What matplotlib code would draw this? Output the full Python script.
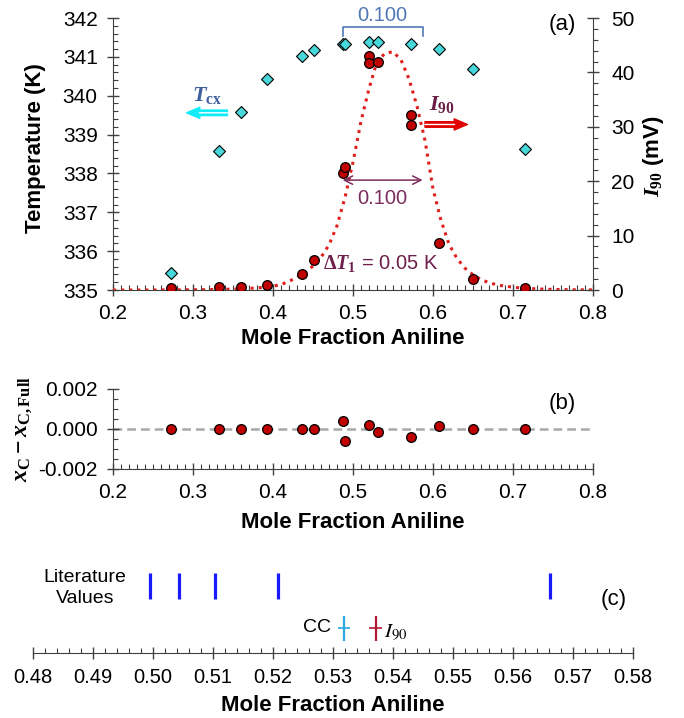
import numpy as np
import matplotlib
matplotlib.use("Agg")
import matplotlib.pyplot as plt
from matplotlib.ticker import MultipleLocator, FormatStrFormatter

plt.rcParams['font.family'] = ['Liberation Sans', 'DejaVu Sans']
plt.rcParams['axes.unicode_minus'] = False
plt.rcParams['mathtext.fontset'] = 'custom'
plt.rcParams['mathtext.rm'] = 'Liberation Serif:bold'
plt.rcParams['mathtext.it'] = 'Liberation Serif:italic:bold'
plt.rcParams['mathtext.bf'] = 'Liberation Serif:bold'

# panel (a): cloud point temperatures (K)
tcx_x = [0.273, 0.333, 0.360, 0.393, 0.436, 0.451, 0.487, 0.490, 0.520, 0.531,
         0.573, 0.608, 0.650, 0.715]
tcx = [335.44, 338.58, 339.58, 340.43, 341.02, 341.18, 341.33, 341.33, 341.38, 341.38,
       341.32, 341.19, 340.68, 338.63]

# panel (a): I90 intensities (mV)
i90_x = [0.273, 0.333, 0.360, 0.393, 0.436, 0.451, 0.487, 0.490, 0.520, 0.520,
         0.531, 0.572, 0.572, 0.608, 0.650, 0.715]
i90 = [0.3, 0.5, 0.5, 1.0, 3.0, 5.6, 21.5, 22.6, 43.0, 41.7,
       42.0, 32.2, 30.3, 8.7, 2.0, 0.4]

# fitted curve, read at 0.01 steps from 0.20 to 0.80
fit_x = np.linspace(0.20, 0.80, 61)
fit_i90 = [0.0, 0.0, 0.0, 0.0, 0.0, 0.0, 0.01, 0.01, 0.02, 0.03,
           0.04, 0.05, 0.07, 0.10, 0.13, 0.17, 0.22, 0.30, 0.38, 0.5,
           0.7, 1.0, 1.6, 2.3, 3.2, 4.4, 6.0, 8.3, 11.8, 17.0,
           23.5, 31.0, 37.0, 42.0, 43.5, 43.8, 42.3, 38.8, 33.8, 27.5,
           18.6, 12.8, 8.4, 5.8, 4.0, 2.8, 1.9, 1.35, 0.95, 0.7,
           0.52, 0.38, 0.28, 0.21, 0.15, 0.11, 0.08, 0.06, 0.04, 0.03, 0.02]

# panel (b): residuals
res_x = [0.273, 0.333, 0.360, 0.393, 0.436, 0.451, 0.487, 0.490, 0.520, 0.531,
         0.572, 0.608, 0.650, 0.715]
res = [0.0, 0.0, 0.0, 0.0, 0.0, 0.0, 0.00042, -0.0006, 0.00018, -0.00015,
       -0.0004, 0.00013, 0.0, 0.0]

# panel (c): critical compositions
lit_values = [0.4995, 0.5044, 0.5103, 0.5208, 0.5662]
cc_value, cc_err = 0.5319, 0.0010
i90_value, i90_err = 0.5371, 0.0011

W, H = 684, 718
fig = plt.figure(figsize=(W / 100, H / 100), dpi=100)
ax = fig.add_axes([113 / W, 1 - 290 / H, 480 / W, 272 / H])
ax2 = ax.twinx()
axb = fig.add_axes([113 / W, 1 - 469 / H, 480 / W, 80 / H])
axc = fig.add_axes([33 / W, 1 - 653 / H, 600 / W, 93 / H])

spine_c = '#404040'
tick_fs = 15

# ---------- panel (a)
ax.plot(tcx_x, tcx, 'D', ms=5.8, mfc='#48d8dc', mec='black', mew=0.8, zorder=3)
ax2.plot(fit_x, fit_i90, ':', color='#e0201c', lw=2.2, zorder=2)
ax2.plot(i90_x, i90, 'o', ms=7, mfc='#c00000', mec='black', mew=0.9, zorder=4)

ax.set_xlim(0.2, 0.8)
ax.set_ylim(335, 342)
ax2.set_ylim(0, 50)
for a in (ax, ax2):
    a.spines['top'].set_visible(False)
    for s in a.spines.values():
        s.set_color(spine_c)
ax.spines['right'].set_visible(False)
ax2.spines['left'].set_visible(False)
ax2.spines['bottom'].set_visible(False)

ax.xaxis.set_major_locator(MultipleLocator(0.1))
ax.xaxis.set_minor_locator(MultipleLocator(0.01))
ax.xaxis.set_major_formatter(FormatStrFormatter('%.1f'))
ax.yaxis.set_major_locator(MultipleLocator(1))
ax.yaxis.set_minor_locator(MultipleLocator(0.2))
ax2.yaxis.set_major_locator(MultipleLocator(10))
ax2.yaxis.set_minor_locator(MultipleLocator(2))
ax.tick_params(which='major', direction='inout', length=8, width=1, color=spine_c,
               labelsize=tick_fs, pad=7)
ax.tick_params(which='minor', direction='in', length=3.5, width=0.8, color=spine_c)
ax.tick_params(axis='x', pad=6)
ax2.tick_params(which='major', direction='inout', length=8, width=1, color=spine_c,
                labelsize=tick_fs, pad=9)
ax2.tick_params(which='minor', direction='out', length=3.5, width=0.8, color=spine_c)

ax.set_xlabel('Mole Fraction Aniline', fontsize=16, fontweight='bold')
ax.xaxis.set_label_coords(0.5, -0.14)
ax.set_ylabel('Temperature (K)', fontsize=16, fontweight='bold')
ax.yaxis.set_label_coords(-0.14, 0.52)
ax2.set_ylabel(r'$I_{90}$ (mV)', fontsize=16, fontweight='bold')
ax2.yaxis.set_label_coords(1.10, 0.49)

ax.text(0.762, 341.82, '(a)', fontsize=16, ha='center', va='center')

# FWHM bracket (blue) and arrow (purple)
fw_lo, fw_hi = 0.487, 0.587
blue = '#4f78b5'
ax.plot([fw_lo, fw_lo, fw_hi, fw_hi], [341.54, 341.78, 341.78, 341.54], color=blue, lw=1.2)
ax.text((fw_lo + fw_hi) / 2, 342.06, '0.100', color=blue, fontsize=14.5, ha='center', va='center')
purple = '#7b2d5e'
ax2.annotate('', xy=(fw_lo, 20.2), xytext=(fw_hi, 20.2),
             arrowprops=dict(arrowstyle='<->,head_length=0.6,head_width=0.3', color=purple,
                             lw=1.1, shrinkA=0, shrinkB=0))
ax2.text((fw_lo + fw_hi) / 2, 16.8, '0.100', color=purple, fontsize=14.5, ha='center', va='center')
ax2.text(0.462, 4.8, r'$\Delta T_1$ = 0.05 K', color='#6e1f4c', fontsize=14.5, ha='left', va='center')

# T_cx label and arrow
ax.text(0.318, 340.0, r'$T_\mathbf{cx}$', color='#3e5f9f', fontsize=16, ha='center', va='center')
ax.annotate('', xy=(0.292, 339.56), xytext=(0.343, 339.56),
            arrowprops=dict(arrowstyle='simple,head_length=0.95,head_width=0.8,tail_width=0.4',
                            color='#10ecf8', shrinkA=0, shrinkB=0))
ax.annotate('', xy=(0.308, 339.56), xytext=(0.343, 339.56),
            arrowprops=dict(arrowstyle='-', color='white', lw=1.0, shrinkA=0, shrinkB=0))

# I90 label and arrow
ax.text(0.611, 339.78, r'$I_{90}$', color='#6b1f48', fontsize=16, ha='center', va='center')
ax.annotate('', xy=(0.643, 339.26), xytext=(0.590, 339.26),
            arrowprops=dict(arrowstyle='simple,head_length=0.95,head_width=0.8,tail_width=0.4',
                            color='#e00000', shrinkA=0, shrinkB=0))
ax.annotate('', xy=(0.627, 339.26), xytext=(0.590, 339.26),
            arrowprops=dict(arrowstyle='-', color='white', lw=1.0, shrinkA=0, shrinkB=0))

# ---------- panel (b)
axb.axhline(0, color='#a8a8a8', lw=1.8, ls=(0, (3.5, 2)), zorder=1)
axb.plot(res_x, res, 'o', ms=7, mfc='#c00000', mec='black', mew=0.9, zorder=3)
axb.set_xlim(0.2, 0.8)
axb.set_ylim(-0.002, 0.002)
axb.spines['top'].set_visible(False)
axb.spines['right'].set_visible(False)
for s in axb.spines.values():
    s.set_color(spine_c)
axb.xaxis.set_major_locator(MultipleLocator(0.1))
axb.xaxis.set_minor_locator(MultipleLocator(0.01))
axb.xaxis.set_major_formatter(FormatStrFormatter('%.1f'))
axb.yaxis.set_major_locator(MultipleLocator(0.002))
axb.yaxis.set_minor_locator(MultipleLocator(0.0005))
axb.yaxis.set_major_formatter(FormatStrFormatter('%.3f'))
axb.tick_params(which='major', direction='inout', length=8, width=1, color=spine_c,
                labelsize=tick_fs, pad=7)
axb.tick_params(which='minor', direction='in', length=3.5, width=0.8, color=spine_c)
axb.tick_params(axis='x', pad=6)
axb.set_xlabel('Mole Fraction Aniline', fontsize=16, fontweight='bold')
axb.xaxis.set_label_coords(0.5, -0.54)
axb.set_ylabel(r'$x_\mathbf{C} - x_\mathbf{C,Full}$', fontsize=17)
axb.yaxis.set_label_coords(-0.165, 0.5)
axb.text(0.762, 0.00125, '(b)', fontsize=16, ha='center', va='center')

# ---------- panel (c)
axc.set_xlim(0.48, 0.58)
axc.set_ylim(0, 1)
axc.vlines(lit_values, 0.58, 0.86, color='#1a1aff', lw=2.3)
axc.errorbar([cc_value], [0.27], xerr=[cc_err], fmt='|', ms=18, mew=1.6,
             color='#2aa9e0', ecolor='#2aa9e0', elinewidth=1.2, capsize=0)
axc.errorbar([i90_value], [0.27], xerr=[i90_err], fmt='|', ms=18, mew=1.6,
             color='#b01830', ecolor='#b01830', elinewidth=1.2, capsize=0)
axc.text(0.4887, 0.70, 'Literature\nValues', fontsize=14, ha='center', va='center',
         linespacing=1.25)
axc.text(0.5296, 0.27, 'CC', fontsize=14, ha='right', va='center')
axc.text(0.5385, 0.22, r'$I_{90}$', fontsize=15, ha='left', va='center', math_fontfamily='stix')
axc.text(0.5768, 0.57, '(c)', fontsize=16, ha='center', va='center')
for side in ('top', 'left', 'right'):
    axc.spines[side].set_visible(False)
axc.spines['bottom'].set_color(spine_c)
axc.yaxis.set_visible(False)
axc.xaxis.set_major_locator(MultipleLocator(0.01))
axc.xaxis.set_minor_locator(MultipleLocator(0.002))
axc.xaxis.set_major_formatter(FormatStrFormatter('%.2f'))
axc.tick_params(which='major', direction='inout', length=8, width=1, color=spine_c,
                labelsize=14.5, pad=7)
axc.tick_params(which='minor', direction='in', length=3.5, width=0.8, color=spine_c)
axc.set_xlabel('Mole Fraction Aniline', fontsize=16, fontweight='bold')
axc.xaxis.set_label_coords(0.5, -0.455)

fig.savefig('out.png', dpi=100)
